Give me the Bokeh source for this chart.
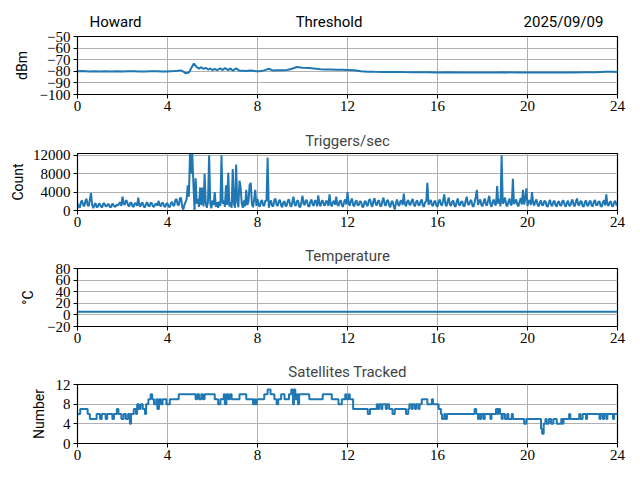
from bokeh.plotting import figure
from bokeh.models import Range1d, FixedTicker, LinearAxis
from bokeh.layouts import column
from bokeh.embed import file_html
from bokeh.resources import INLINE

# ---------------- data ----------------
hour_ticks = [0, 4, 8, 12, 16, 20, 24]

header_text = ["Howard", "Threshold", "2025/09/09"]

thr_t = [0.0, 0.25, 0.5, 0.75, 1.0, 1.25, 1.5, 1.75, 2.0, 2.25, 2.5, 2.75, 3.0, 3.25, 3.5, 3.75,
         4.0, 4.15, 4.3, 4.45, 4.6, 4.7, 4.8, 4.95, 5.17, 5.3, 5.4, 5.5, 5.6, 5.7, 5.8, 5.9,
         6.0, 6.1, 6.2, 6.35, 6.45, 6.55, 6.7, 6.8, 6.9, 7.05, 7.2, 7.35, 7.5, 7.65, 7.8, 7.95,
         8.1, 8.3, 8.5, 8.7, 8.9, 9.1, 9.3, 9.5, 9.75, 10.0, 10.3, 10.6, 10.8, 11.0, 11.25, 11.5,
         11.75, 12.0, 12.3, 12.6, 12.9, 13.2, 13.6, 14.0, 14.5, 15.0, 15.5, 16.0, 16.5, 17.0,
         17.5, 18.0, 18.5, 19.0, 19.5, 20.0, 20.5, 21.0, 21.5, 22.0, 22.5, 23.0, 23.5, 23.8, 24.0]
thr_v = [-80.0, -79.8, -80.1, -79.9, -80.1, -80.0, -80.2, -79.9, -80.2, -80.0, -79.9, -80.1, -80.1, -80.0, -80.0, -80.2,
         -80.2, -79.9, -79.8, -79.6, -79.2, -80.2, -81.6, -81.0, -73.3, -76.5, -77.6, -76.5, -78.0, -77.0, -78.5, -77.6,
         -79.0, -78.0, -79.0, -77.5, -79.0, -77.2, -79.0, -77.5, -79.5, -77.5, -79.5, -79.6, -79.8, -79.4, -79.6, -80.0,
         -80.0, -79.2, -77.8, -79.4, -79.2, -79.0, -78.8, -78.0, -76.3, -77.0, -77.2, -77.8, -78.2, -78.5, -78.4, -78.6,
         -78.7, -78.8, -79.0, -80.0, -80.3, -80.4, -80.5, -80.5, -80.7, -80.8, -80.8, -81.0, -80.9, -81.0,
         -81.1, -81.0, -81.1, -80.9, -81.0, -81.0, -81.1, -81.1, -81.0, -81.0, -80.9, -80.9, -80.4, -80.3, -80.5]

# triggers/sec, one sample every 3 minutes (0.05 h), one row per hour, last value at 24:00
trig_step_h = 0.05
trig_rows = [
    [1500, 900, 600, 1800, 2200, 1200, 900, 2000, 2600, 1100, 1000, 2400, 3800, 1300, 500, 1200, 1600, 700, 800, 1500],
    [1400, 800, 700, 1600, 1500, 900, 900, 1400, 1300, 700, 800, 1500, 1200, 800, 900, 1300, 1100, 1500, 1800, 1000],
    [3000, 1500, 1200, 2200, 2000, 1100, 900, 1700, 1700, 900, 800, 1600, 1500, 1000, 2800, 1100, 900, 1700, 1600, 800],
    [700, 1500, 1800, 1000, 900, 1700, 1600, 900, 800, 1400, 1500, 1000, 2100, 1200, 900, 1600, 1700, 900, 800, 1500],
    [1500, 900, 700, 1600, 1900, 1100, 1000, 2300, 2500, 1300, 1100, 2600, 2800, 900, 200, 1200, 1800, 2500, 5500, 3000],
    [12400, 8000, 12400, 6000, 0, 7000, 1500, 2500, 800, 5000, 1200, 5000, 900, 8000, 1500, 600, 2000, 12000, 1500, 500],
    [2200, 1200, 4000, 800, 1800, 600, 2000, 1000, 12000, 1500, 2200, 800, 5500, 1200, 8200, 900, 1800, 600, 9000, 1500],
    [600, 10000, 2000, 700, 6500, 5000, 1500, 600, 2200, 900, 4500, 1200, 2000, 5600, 6000, 1500, 700, 2400, 4500, 1000],
    [2500, 1200, 800, 1900, 2300, 1100, 1000, 2200, 2000, 11500, 600, 1500, 2200, 1000, 900, 2300, 2600, 1200, 1000, 2100],
    [2300, 1100, 700, 1800, 2000, 900, 1100, 2200, 2400, 1200, 800, 1900, 3000, 1300, 1000, 2000, 2200, 900, 700, 1900],
    [3200, 1400, 1200, 2300, 2100, 1000, 800, 1900, 2400, 1300, 1000, 2200, 2000, 900, 3300, 1500, 900, 2000, 2200, 1200],
    [1100, 2100, 2000, 1000, 3500, 1400, 900, 1800, 2100, 1200, 3000, 1300, 1000, 2000, 2200, 1100, 800, 1900, 2400, 1300],
    [4000, 1600, 1000, 2100, 2600, 1200, 900, 1900, 2200, 1100, 1200, 2000, 1900, 900, 700, 1800, 2100, 1200, 1000, 2200],
    [2500, 1300, 800, 2000, 2700, 1400, 1100, 2000, 2200, 1000, 900, 2100, 2800, 1300, 1000, 2100, 2300, 1200, 700, 1800],
    [2100, 1000, 200, 1600, 2400, 1300, 1000, 2000, 2200, 1200, 3700, 1500, 900, 1900, 2300, 1300, 1200, 2100, 2500, 1200],
    [900, 1900, 2200, 1200, 1100, 2000, 2400, 1100, 800, 1800, 2000, 6000, 1200, 1900, 2300, 1200, 1000, 1900, 2100, 1100],
    [800, 1900, 2400, 1300, 1100, 2200, 3500, 1400, 900, 2000, 2800, 1300, 1000, 1900, 2200, 1100, 800, 1900, 2600, 1300],
    [1100, 1900, 2000, 1000, 900, 2100, 3000, 1400, 1200, 2000, 2300, 1100, 800, 1800, 3000, 4500, 1200, 1900, 2400, 1200],
    [900, 1900, 2600, 1300, 1100, 2200, 3200, 1400, 800, 1800, 2400, 1300, 1200, 5300, 1500, 2500, 900, 12000, 1500, 1900],
    [2800, 1300, 900, 1900, 2600, 1300, 1200, 6900, 1400, 1800, 2400, 1200, 900, 2000, 2700, 1300, 4500, 1300, 2500, 4800],
    [1000, 1900, 2300, 1200, 4000, 1600, 1100, 2000, 2400, 1200, 900, 1800, 2200, 1100, 1200, 2100, 2000, 1000, 800, 1800],
    [2300, 1200, 1000, 1900, 2100, 1100, 900, 1800, 2000, 1100, 1100, 2000, 2200, 1200, 800, 1700, 2100, 1100, 1000, 1900],
    [2400, 1200, 900, 1900, 2600, 1300, 1100, 2000, 2000, 1000, 800, 1800, 2200, 1100, 1000, 2000, 2100, 1100, 900, 1900],
    [2300, 1200, 1100, 1900, 2000, 1000, 800, 1800, 2200, 1100, 3500, 1400, 1000, 1800, 2000, 1000, 900, 1800, 2100, 1200],
    [1200],
]

temp_t = [0.0, 6.0, 12.0, 18.0, 24.0]
temp_v = [5.5, 5.5, 5.5, 5.5, 5.5]

sat_t = [0.0, 0.12, 0.45, 0.55, 0.85, 1.0, 1.08, 1.25, 1.32, 1.55, 1.62, 1.75, 1.82, 1.95, 2.05, 2.15, 2.25, 2.33,
         2.38, 2.5, 2.6, 2.65, 2.72, 2.8, 2.9, 3.0, 3.05, 3.15, 3.25, 3.32, 3.4, 3.5, 3.55, 3.62, 3.7, 3.78, 3.95,
         4.1, 4.5, 5.25, 5.32, 5.4, 5.5, 5.58, 5.65, 6.1, 6.25, 6.35, 6.5, 6.55, 6.62, 6.7, 6.78, 6.85, 7.2, 7.5,
         7.8, 7.85, 7.9, 7.97, 8.3, 8.45, 8.58, 8.75, 8.85, 8.92, 9.05, 9.2, 9.4, 9.5, 9.58, 9.62, 9.68, 9.75, 9.8,
         9.85, 10.3, 10.9, 11.3, 11.6, 11.75, 11.9, 11.95, 12.05, 12.1, 12.25, 12.9, 13.0, 13.3, 13.35, 13.4, 13.5,
         13.55, 13.7, 13.75, 13.85, 14.0, 14.1, 14.6, 14.7, 14.75, 14.85, 14.9, 15.0, 15.05, 15.15, 15.2, 15.3,
         15.55, 15.75, 15.8, 16.05, 16.15, 16.2, 16.3, 16.35, 16.42, 17.65, 17.72, 17.8, 17.85, 17.9, 17.95, 18.05,
         18.1, 18.35, 18.4, 18.6, 18.65, 18.7, 18.78, 18.85, 18.9, 19.0, 19.1, 19.15, 19.3, 19.35, 19.85, 19.95,
         20.6, 20.65, 20.72, 20.8, 20.85, 20.95, 21.05, 21.15, 21.3, 21.5, 21.55, 21.6, 21.85, 21.9, 22.3, 22.35,
         22.45, 22.6, 22.65, 23.2, 23.25, 23.35, 23.4, 23.5, 23.55, 23.8, 23.85, 24.0]
sat_n = [6, 7, 6, 5, 6, 5, 6, 5, 6, 5, 6, 7, 6, 5, 6, 5, 6, 4,
         6, 7, 6, 8, 7, 8, 7, 6, 8, 9, 10, 9, 8, 9, 7, 9, 8, 9, 8,
         9, 10, 9, 10, 9, 10, 9, 10, 9, 8, 9, 10, 8, 10, 9, 10, 9, 10, 9,
         8, 9, 8, 9, 10, 11, 10, 9, 8, 9, 10, 9, 10, 11, 8, 11, 9, 10, 8,
         10, 9, 10, 9, 8, 9, 10, 9, 10, 9, 7, 6, 7, 8, 7, 8, 7,
         8, 7, 8, 7, 6, 7, 6, 7, 8, 7, 8, 7, 8, 7, 8, 9,
         8, 9, 8, 7, 6, 5, 6, 5, 6, 7, 6, 5, 6, 5, 6, 5,
         6, 5, 6, 7, 6, 7, 6, 5, 6, 5, 6, 5, 6, 5, 4, 5,
         3, 2, 4, 5, 4, 5, 4, 5, 4, 5, 4, 5, 6, 5, 6, 5,
         6, 5, 6, 5, 6, 5, 6, 5, 6, 5, 6, 6]

trig_v = [v for row in trig_rows for v in row]
trig_t = [round(i * trig_step_h, 2) for i in range(len(trig_v))]

BLUE = "#1f77b4"
TICK_FONT = "Liberation Serif"
SANS = "Roboto"
W = 632
LEFT = 77
RIGHT = 15
header_pos = [1.69, 11.18, 21.6]  # centres of the three header texts, in hours


def make_fig(title, ylabel, ymin, ymax, yticks, height, border_top, border_bottom, label_standoff):
    p = figure(width=W, height=height, output_backend="svg", toolbar_location=None,
               x_range=Range1d(0, 24), y_range=Range1d(ymin, ymax),
               min_border_left=LEFT, min_border_right=RIGHT,
               min_border_top=border_top, min_border_bottom=border_bottom)
    if title:
        p.title.text = title
        p.title.align = "center"
        p.title.text_font = SANS
        p.title.text_font_size = "15px"
        p.title.text_font_style = "normal"
        p.title.standoff = 8
    p.outline_line_color = "black"
    p.outline_line_width = 1.2
    p.outline_line_alpha = 1
    p.background_fill_color = "white"
    p.border_fill_color = "white"
    p.xaxis.ticker = FixedTicker(ticks=hour_ticks)
    p.yaxis.ticker = FixedTicker(ticks=yticks)
    p.xgrid.ticker = FixedTicker(ticks=hour_ticks)
    p.ygrid.ticker = FixedTicker(ticks=yticks)
    p.yaxis.major_label_overrides = {t: ("\u2212" + str(abs(t)) if t < 0 else str(t)) for t in yticks}
    for ax in (p.xaxis[0], p.yaxis[0]):
        ax.axis_line_color = "black"
        ax.major_tick_line_color = "black"
        ax.major_tick_out = 4
        ax.major_tick_in = 0
        ax.minor_tick_out = 0
        ax.minor_tick_in = 0
        ax.major_label_text_font = TICK_FONT
        ax.major_label_text_font_size = "15px"
        ax.major_label_text_color = "black"
        ax.major_label_standoff = 3
    p.xaxis.major_label_standoff = 2
    p.yaxis.axis_label = ylabel
    p.yaxis.axis_label_text_font = SANS
    p.yaxis.axis_label_text_font_size = "14px"
    p.yaxis.axis_label_text_font_style = "normal"
    p.yaxis.axis_label_text_color = "black"
    p.yaxis.axis_label_standoff = label_standoff
    p.grid.grid_line_color = "#b0b0b0"
    p.grid.grid_line_width = 1
    p.grid.grid_line_alpha = 1
    return p


p1 = make_fig(None, "dBm", -100, -50, [-100, -90, -80, -70, -60, -50], 122, 36, 28, 7)
p1.line(thr_t, thr_v, line_color=BLUE, line_width=2)
# header row: station name, panel title and date, as labels of an axis above the first panel
hdr_axis = LinearAxis(ticker=FixedTicker(ticks=header_pos),
                      major_label_overrides={pos: txt for pos, txt in zip(header_pos, header_text)})
hdr_axis.axis_line_color = None
hdr_axis.major_tick_line_color = None
hdr_axis.minor_tick_line_color = None
hdr_axis.major_tick_out = 0
hdr_axis.major_tick_in = 0
hdr_axis.minor_tick_out = 0
hdr_axis.minor_tick_in = 0
hdr_axis.major_label_standoff = 6
hdr_axis.major_label_text_font = SANS
hdr_axis.major_label_text_font_size = "15px"
hdr_axis.major_label_text_color = "black"
p1.add_layout(hdr_axis, "above")

p2 = make_fig("Triggers/sec", "Count", 0, 12400, [0, 4000, 8000, 12000], 116, 31, 28, 4)
p2.line(trig_t, trig_v, line_color=BLUE, line_width=2)

p3 = make_fig("Temperature", "\u00b0C", -20, 80, [-20, 0, 20, 40, 60, 80], 116, 30, 28, 8)
p3.line(temp_t, temp_v, line_color=BLUE, line_width=2)

p4 = make_fig("Satellites Tracked", "Number", 0, 12, [0, 4, 8, 12], 118, 30, 29, 6)
p4.step(sat_t, sat_n, mode="after", line_color=BLUE, line_width=2)

layout = column(p1, p2, p3, p4, spacing=0)
open("out.html", "w").write(file_html(layout, INLINE))
